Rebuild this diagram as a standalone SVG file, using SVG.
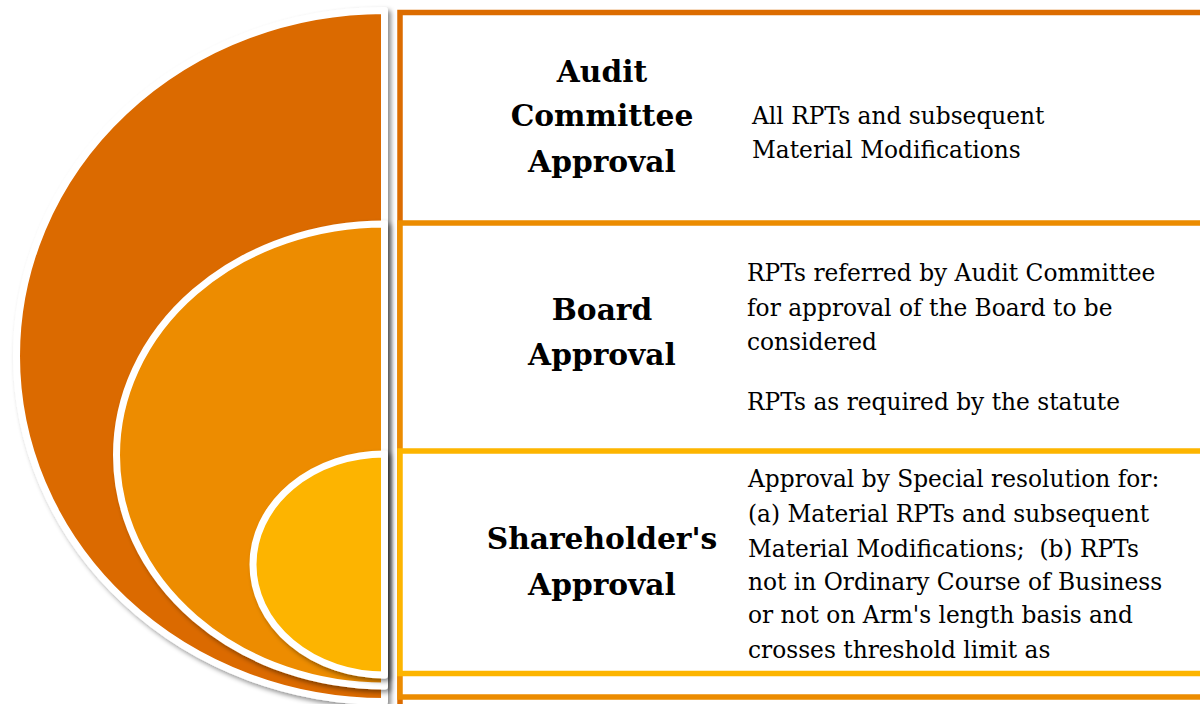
<svg xmlns="http://www.w3.org/2000/svg" width="1200" height="704" viewBox="0 0 1200 704">
<defs>
<filter id="sh" x="-10%" y="-10%" width="130%" height="130%">
<feDropShadow dx="3" dy="3" stdDeviation="2.5" flood-color="#000" flood-opacity="0.45"/>
</filter>
</defs>
<style>
.arc{stroke:#fff;stroke-width:7;stroke-linejoin:round;filter:url(#sh)}
.box{fill:#fff;stroke-width:5.5}
.h{font-family:"DejaVu Serif","Liberation Serif",serif;font-weight:bold;font-size:29.7px;fill:#000;text-anchor:middle}
.t{font-family:"DejaVu Serif","Liberation Serif",serif;font-size:23.3px;fill:#000}
</style>
<rect width="1200" height="704" fill="#fff"/>
<g id="audit-committee">
<path class="arc" fill="#DB6A00" d="M384.5,10.5 A368,345.5 0 0 0 384.5,701.5 Z"/>
<rect class="box" stroke="#DC6C00" x="400" y="12.5" width="900" height="760"/>
<text class="h"><tspan x="602" y="82">Audit</tspan><tspan x="602" y="126">Committee</tspan><tspan x="602" y="172">Approval</tspan></text>
<text class="t"><tspan x="752" y="124">All RPTs and subsequent</tspan><tspan x="752" y="158">Material Modifications</tspan></text>
</g>
<g id="board">
<path class="arc" fill="#ED8C00" d="M384.5,224 A268,231 0 0 0 384.5,686 Z"/>
<rect class="box" stroke="#EC8C00" x="400" y="223" width="900" height="474"/>
<text class="h"><tspan x="602" y="320">Board</tspan><tspan x="602" y="365">Approval</tspan></text>
<text class="t"><tspan x="747" y="281">RPTs referred by Audit Committee</tspan><tspan x="747" y="316">for approval of the Board to be</tspan><tspan x="747" y="350">considered</tspan><tspan x="747" y="410">RPTs as required by the statute</tspan></text>
</g>
<g id="shareholders">
<path class="arc" fill="#FDB400" d="M384.5,454 A131.5,110.5 0 0 0 384.5,675 Z"/>
<rect class="box" stroke="#FDB500" x="400" y="451" width="900" height="222.5"/>
<text class="h"><tspan x="602" y="549">Shareholder's</tspan><tspan x="602" y="595">Approval</tspan></text>
<text class="t"><tspan x="748" y="487">Approval by Special resolution for:</tspan><tspan x="748" y="522">(a) Material RPTs and subsequent</tspan><tspan x="748" y="557">Material Modifications;&#160; (b) RPTs</tspan><tspan x="748" y="590">not in Ordinary Course of Business</tspan><tspan x="748" y="623">or not on Arm's length basis and</tspan><tspan x="748" y="658">crosses threshold limit as</tspan></text>
</g>
<g id="connectors"/>
</svg>
